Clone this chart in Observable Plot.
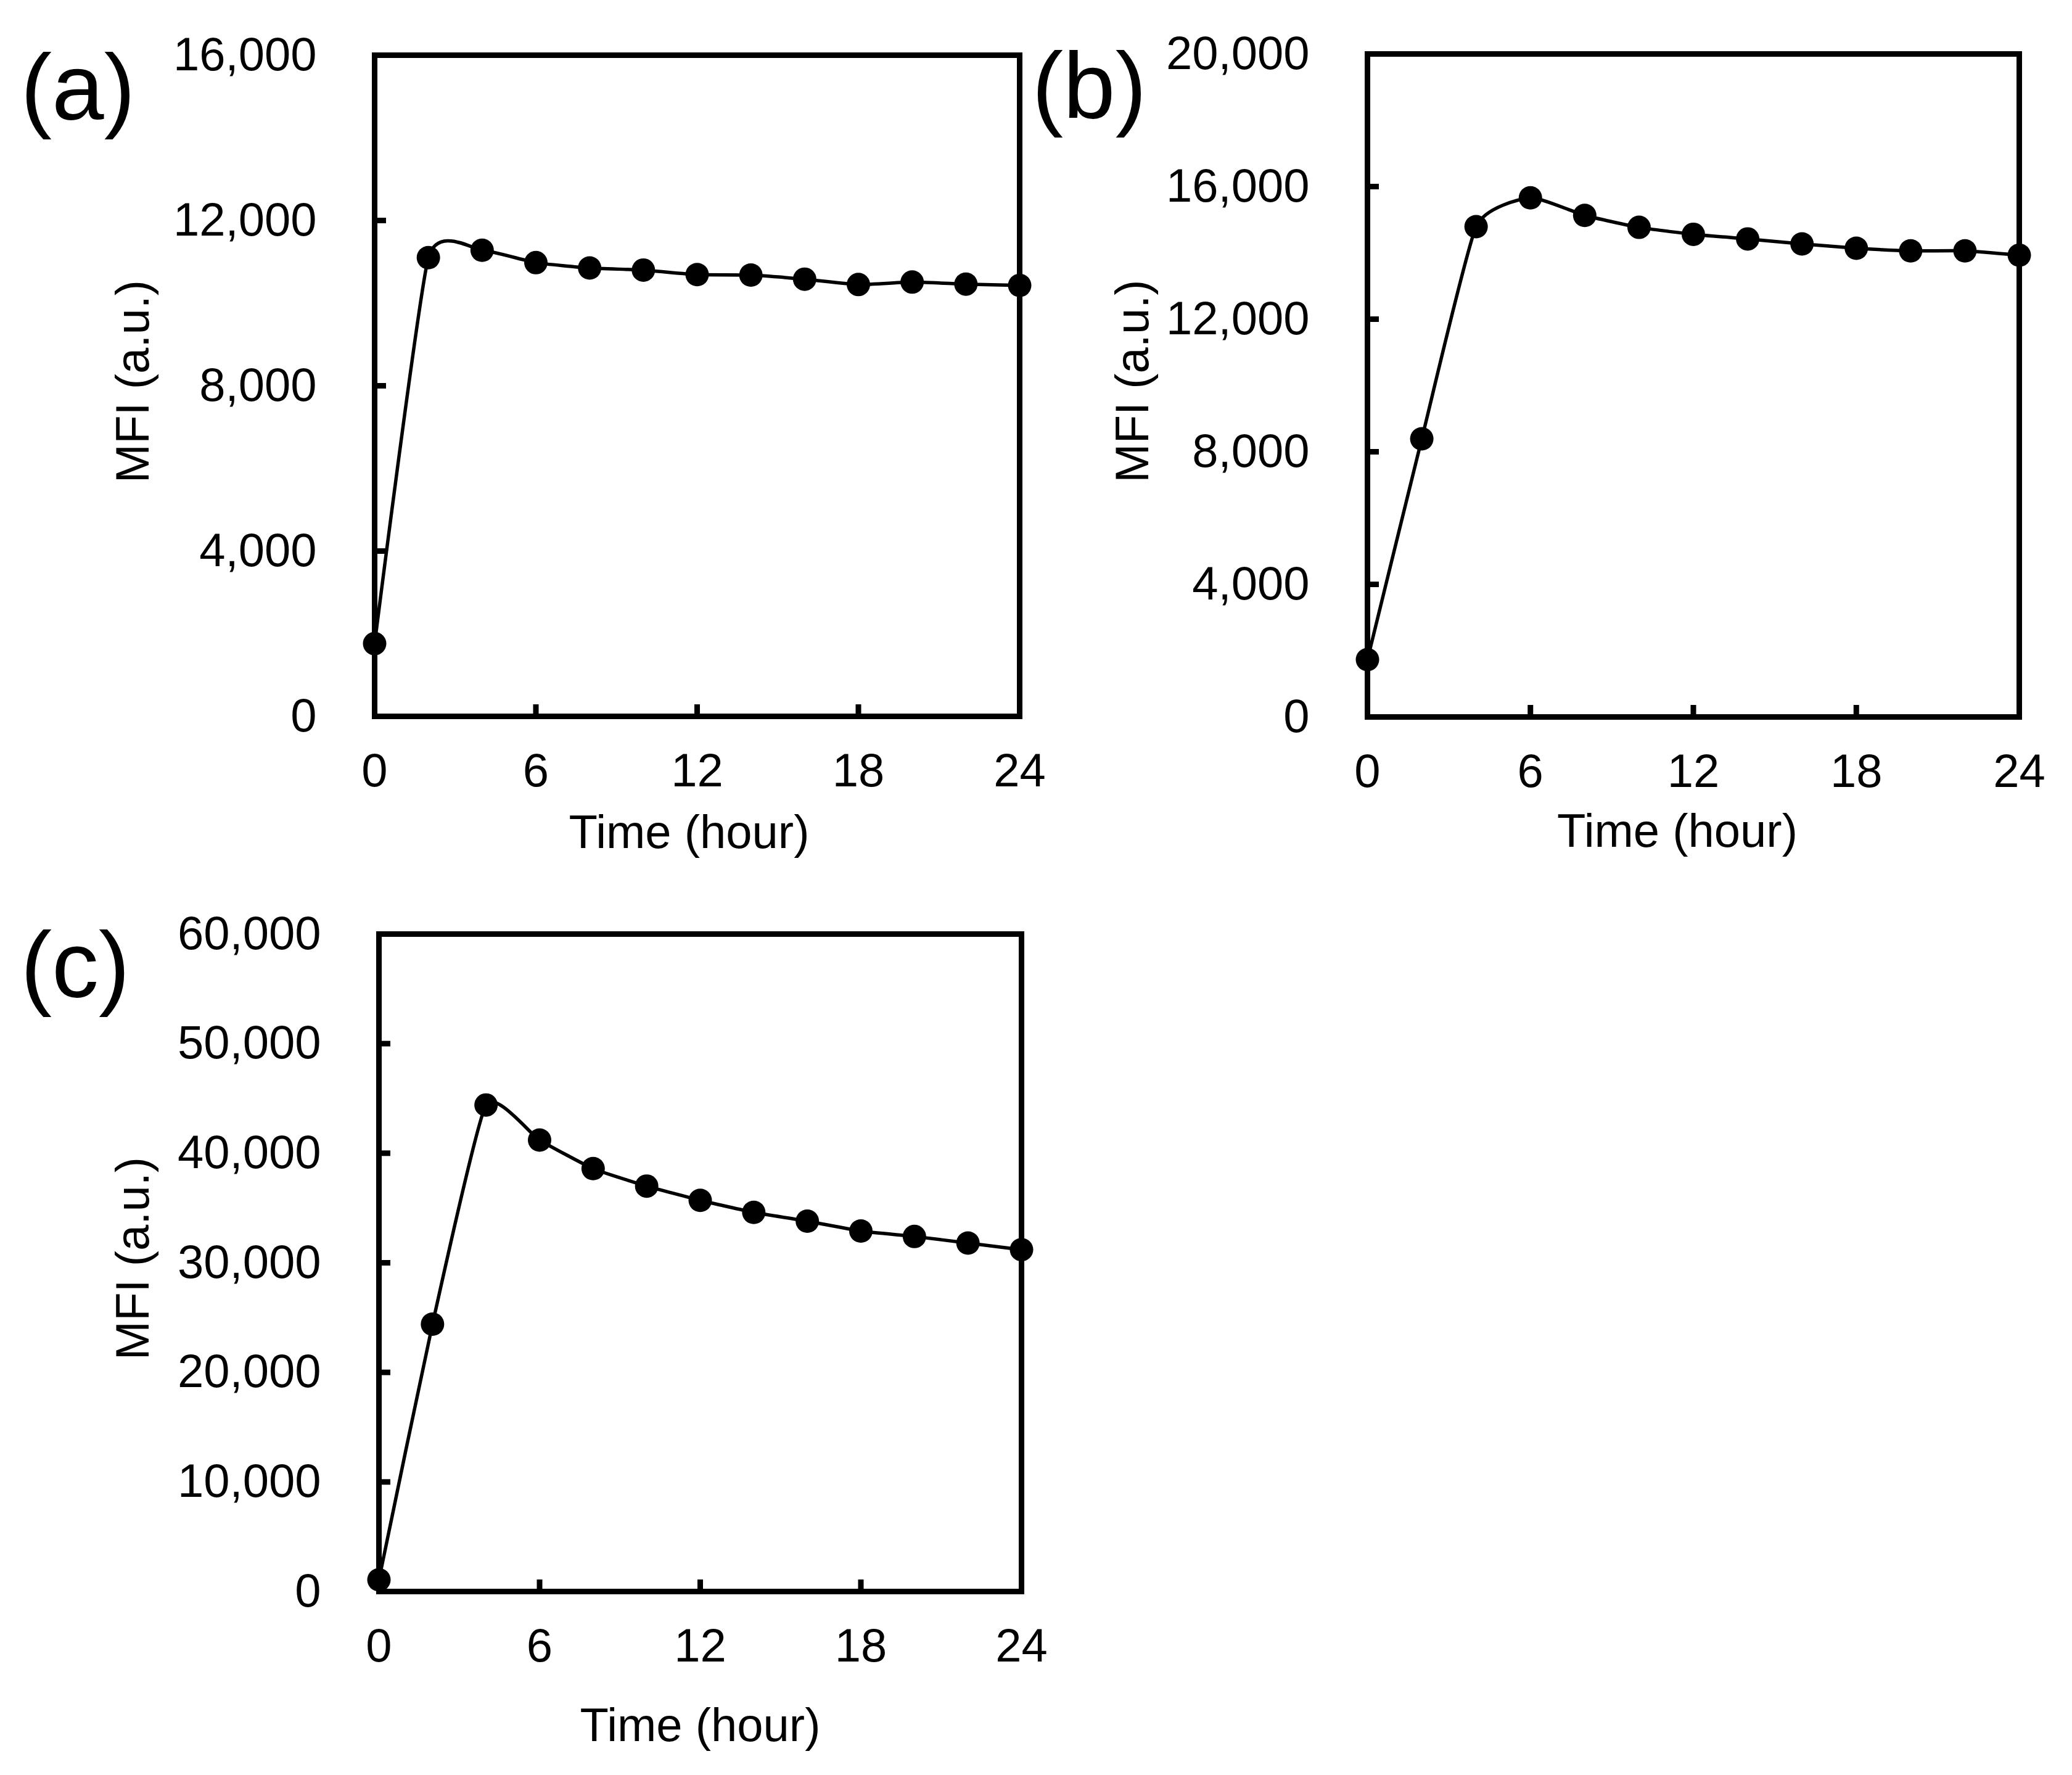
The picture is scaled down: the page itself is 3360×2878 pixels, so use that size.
<!DOCTYPE html>
<html>
<head>
<meta charset="utf-8">
<script src="https://cdn.jsdelivr.net/npm/d3@7"></script>
<script src="https://cdn.jsdelivr.net/npm/@observablehq/plot@0.6"></script>
<style>
html, body { margin: 0; padding: 0; background: #fff; }
#wrap { position: relative; width: 3360px; height: 2878px; background: #fff; }
.panel { position: absolute; }
</style>
</head>
<body>
<div id="wrap"></div>
<script>
// ---- data ----
const hours = [0, 2, 4, 6, 8, 10, 12, 14, 16, 18, 20, 22, 24];
const mfiA = [1760, 11100, 11280, 10980, 10850, 10800, 10690, 10680, 10580, 10450, 10510, 10460, 10430];
const mfiB = [1730, 8390, 14790, 15660, 15130, 14770, 14560, 14420, 14270, 14140, 14060, 14060, 13930];
const mfiC = [1070, 24400, 44400, 41200, 38600, 37000, 35700, 34600, 33800, 32900, 32400, 31800, 31200];
const xTicks = [0, 6, 12, 18, 24];
const yTicksA = [0, 4000, 8000, 12000, 16000];
const yTicksB = [0, 4000, 8000, 12000, 16000, 20000];
const yTicksC = [0, 10000, 20000, 30000, 40000, 50000, 60000];
const panelLabels = ["(a)", "(b)", "(c)"];
const xLabel = "Time (hour)";
const yLabel = "MFI (a.u.)";

const FONT = "'Liberation Sans', Arial, Helvetica, sans-serif";
const fmt = d3.format(",");

function panel(cfg) {
  const rows = hours.map((h, i) => ({hour: h, mfi: cfg.values[i]}));
  const innerW = cfg.width - cfg.ml - cfg.mr;
  const innerH = cfg.height - cfg.mt - cfg.mb;
  const chart = Plot.plot({
    width: cfg.width,
    height: cfg.height,
    marginTop: cfg.mt,
    marginRight: cfg.mr,
    marginBottom: cfg.mb,
    marginLeft: cfg.ml,
    style: {fontFamily: FONT, fontSize: "76px", color: "#000", background: "transparent", overflow: "visible"},
    x: {domain: [0, 24], ticks: xTicks, tickSize: 0, tickPadding: 60, label: null},
    y: {domain: [0, cfg.yTicks[cfg.yTicks.length - 1]], ticks: cfg.yTicks, tickSize: 0, tickPadding: 94, tickFormat: fmt, label: null},
    marks: [
      Plot.frame({stroke: "#000", strokeWidth: 9}),
      Plot.tickX(xTicks, {x: d => d, insetTop: innerH - 19, stroke: "#000", strokeWidth: 9}),
      Plot.tickY(cfg.yTicks, {y: d => d, insetRight: innerW - 19, stroke: "#000", strokeWidth: 9}),
      Plot.line(rows, {x: "hour", y: "mfi", curve: "cardinal", tension: 0.5, stroke: "#000", strokeWidth: 5.5}),
      Plot.dot(rows, {x: "hour", y: "mfi", r: 19, fill: "#000", stroke: "none"}),
      Plot.text([cfg.label], {text: d => d, frameAnchor: "top-left", lineAnchor: "middle", textAnchor: "start", fontSize: 152, dx: cfg.labDx, dy: cfg.labDy, fill: "#000"}),
      Plot.text([yLabel], {text: d => d, frameAnchor: "left", lineAnchor: "middle", rotate: -90, textAnchor: "middle", fontSize: 76, dx: cfg.yLabDx, dy: -7, fill: "#000"}),
      Plot.text([xLabel], {text: d => d, frameAnchor: "bottom", lineAnchor: "middle", textAnchor: "middle", fontSize: 76, dx: cfg.xLabDx, dy: cfg.xLabDy, fill: "#000"})
    ]
  });
  const div = document.createElement("div");
  div.className = "panel";
  div.style.left = cfg.left + "px";
  div.style.top = cfg.top + "px";
  div.style.width = cfg.width + "px";
  div.style.height = cfg.height + "px";
  div.appendChild(chart);
  document.getElementById("wrap").appendChild(div);
}

panel({values: mfiA, yTicks: yTicksA, label: panelLabels[0],
  left: 0, top: 0, width: 1700, height: 1420, mt: 89, mr: 47, mb: 259, ml: 607,
  labDx: -574, labDy: 56, yLabDx: -391, xLabDx: -13, xLabDy: 189});

panel({values: mfiB, yTicks: yTicksB, label: panelLabels[1],
  left: 1660, top: 0, width: 1700, height: 1420, mt: 87, mr: 86, mb: 258, ml: 557,
  labDx: -544, labDy: 55, yLabDx: -380, xLabDx: -26, xLabDy: 186});

panel({values: mfiC, yTicks: yTicksC, label: panelLabels[2],
  left: 0, top: 1420, width: 1700, height: 1458, mt: 94, mr: 44, mb: 298, ml: 614,
  labDx: -581, labDy: 54, yLabDx: -398, xLabDx: 0, xLabDy: 218});
</script>
</body>
</html>
